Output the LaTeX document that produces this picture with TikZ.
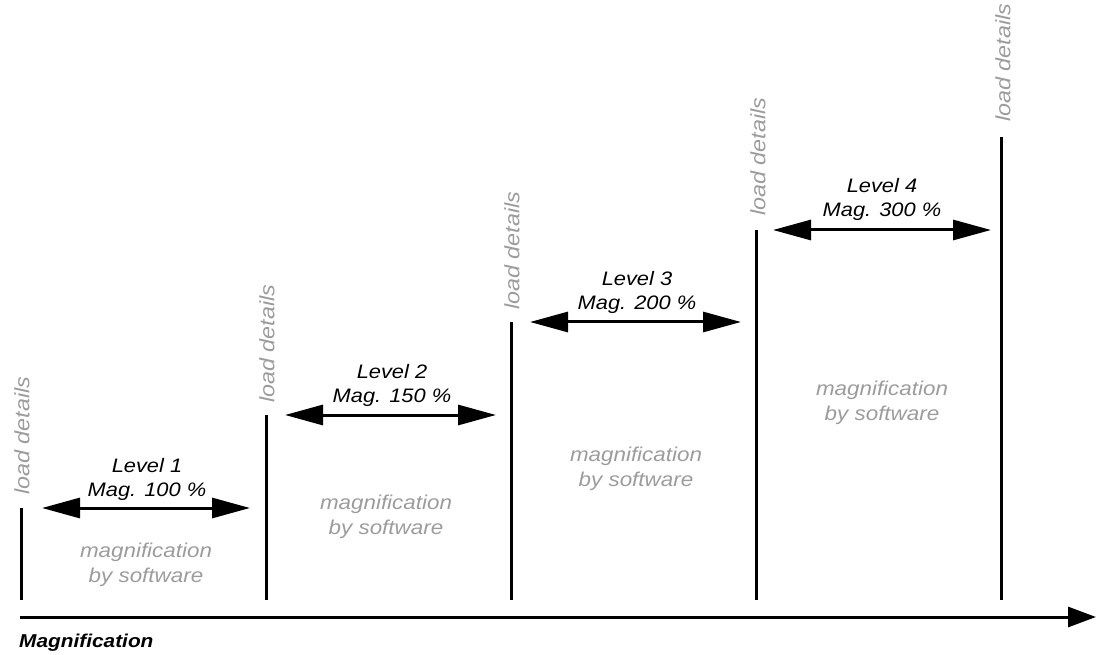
\documentclass[tikz,border=0pt]{standalone}
\usepackage{fontspec}
\setmainfont[FakeStretch=1.12]{Liberation Sans}
\usetikzlibrary{arrows.meta}
\definecolor{softgray}{HTML}{9C9C9C}
\tikzset{
  bar/.style={line width=3pt},
  levelarrow/.style={line width=3pt,{Triangle[length=38pt,width=20pt]}-{Triangle[length=38pt,width=20pt]}},
  axisline/.style={line width=3pt,-{Triangle[length=28pt,width=20pt]}},
  loadlbl/.style={rotate=90,anchor=west,inner sep=0pt,text=softgray,font=\fontsize{20.8}{24}\selectfont\itshape},
  levellbl/.style={align=center,inner sep=0pt,font=\fontsize{19.5}{24}\selectfont\itshape},
  softlbl/.style={align=center,inner sep=0pt,text=softgray,font=\fontsize{20}{24.5}\selectfont\itshape},
  axislbl/.style={anchor=west,inner sep=0pt,font=\fontsize{18.6}{20}\selectfont\bfseries\itshape}
}
\begin{document}
\begin{tikzpicture}[x=1pt,y=-1pt]
\useasboundingbox (0,0) rectangle (1096,655);
% bars
\coordinate (b1t) at (21,508);  \coordinate (b1b) at (21,600);
\coordinate (b2t) at (266,415); \coordinate (b2b) at (266,600);
\coordinate (b3t) at (511,322); \coordinate (b3b) at (511,600);
\coordinate (b4t) at (756,230); \coordinate (b4b) at (756,600);
\coordinate (b5t) at (1001,137); \coordinate (b5b) at (1001,600);
\draw[bar] (b1t) -- (b1b);
\draw[bar] (b2t) -- (b2b);
\draw[bar] (b3t) -- (b3b);
\draw[bar] (b4t) -- (b4b);
\draw[bar] (b5t) -- (b5b);
% load details labels
\node[loadlbl] (ld1) at (22,495) {load details};
\node[loadlbl] (ld2) at (267,403) {load details};
\node[loadlbl] (ld3) at (512,310) {load details};
\node[loadlbl] (ld4) at (758,216) {load details};
\node[loadlbl] (ld5) at (1003,122) {load details};
% level arrows
\coordinate (a1l) at (42,508);  \coordinate (a1r) at (250,508);
\coordinate (a2l) at (285,415); \coordinate (a2r) at (496,415);
\coordinate (a3l) at (530,322); \coordinate (a3r) at (741,322);
\coordinate (a4l) at (773,230); \coordinate (a4r) at (991,230);
\draw[levelarrow] (a1l) -- (a1r);
\draw[levelarrow] (a2l) -- (a2r);
\draw[levelarrow] (a3l) -- (a3r);
\draw[levelarrow] (a4l) -- (a4r);
% level labels
\node[levellbl] (l1) at (147,479) {Level 1\\Mag. 100 \%};
\node[levellbl] (l2) at (392,385) {Level 2\\Mag. 150 \%};
\node[levellbl] (l3) at (637,292) {Level 3\\Mag. 200 \%};
\node[levellbl] (l4) at (882,199) {Level 4\\Mag. 300 \%};
% software labels
\node[softlbl] (s1) at (146,565) {magnification\\by software};
\node[softlbl] (s2) at (386,517) {magnification\\by software};
\node[softlbl] (s3) at (636,469) {magnification\\by software};
\node[softlbl] (s4) at (882,403) {magnification\\by software};
% axis
\coordinate (ax0) at (20,617);
\coordinate (ax1) at (1096,617);
\draw[axisline] (ax0) -- (ax1);
\node[axislbl] (axl) at (19,643) {Magnification};
\end{tikzpicture}
\end{document}
